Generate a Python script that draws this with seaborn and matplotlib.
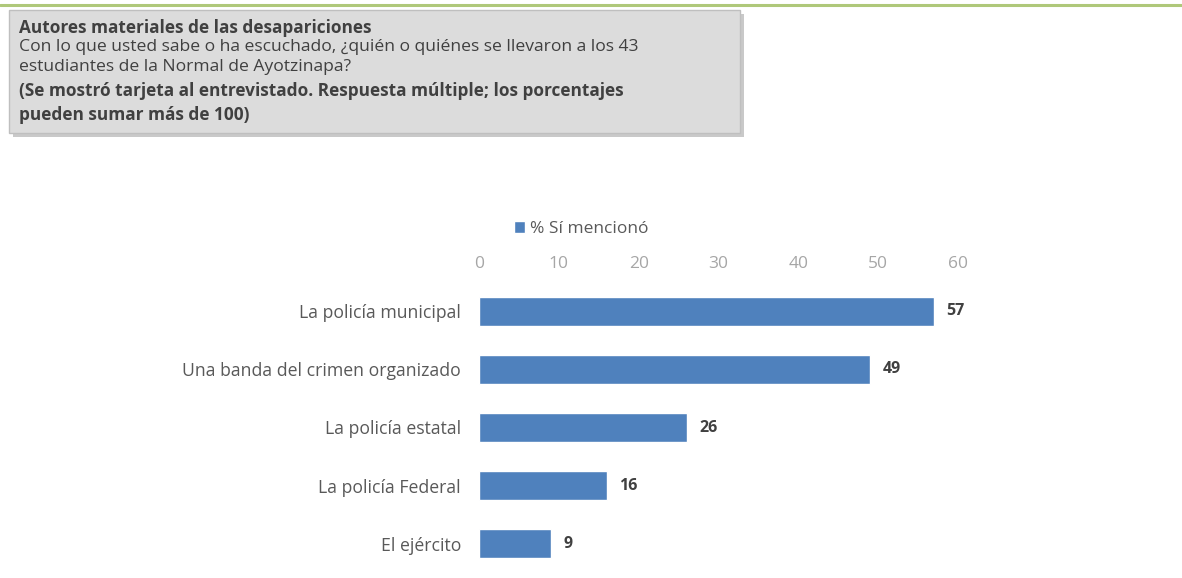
import matplotlib
matplotlib.use("Agg")
import matplotlib.pyplot as plt
import seaborn as sns
import pandas as pd
from matplotlib.patches import Rectangle
from matplotlib.lines import Line2D

categories = ["La policía municipal", "Una banda del crimen organizado",
              "La policía estatal", "La policía Federal", "El ejército"]
values = [57, 49, 26, 16, 9]
xticks = [0, 10, 20, 30, 40, 50, 60]
series_name = "% Sí mencionó"

title = "Autores materiales de las desapariciones"
question = ["Con lo que usted sabe o ha escuchado, ¿quién o quiénes se llevaron a los 43",
            "estudiantes de la Normal de Ayotzinapa?"]
note = ["(Se mostró tarjeta al entrevistado. Respuesta múltiple; los porcentajes",
        "pueden sumar más de 100)"]

sns.set_theme(style="white")
plt.rcParams['font.family'] = ['Open Sans', 'DejaVu Sans']

df = pd.DataFrame({"cat": categories, "val": values})

fig = plt.figure(figsize=(11.82, 5.78), dpi=100)
W, H = 1182, 578

# green top line
fig.add_artist(Line2D([0, 1], [1 - 4.5 / H, 1 - 4.5 / H], transform=fig.transFigure,
                      color="#9BBB59", lw=2.2, alpha=0.8))

# header box with shadow
bx0, by0, bx1, by1 = 9, 10, 740, 133
fig.add_artist(Rectangle(((bx0 + 4) / W, 1 - (by1 + 4) / H), (bx1 - bx0) / W, (by1 - by0) / H,
                         transform=fig.transFigure, facecolor="#a6a6a6", edgecolor="none", alpha=0.6))
fig.add_artist(Rectangle((bx0 / W, 1 - by1 / H), (bx1 - bx0) / W, (by1 - by0) / H,
                         transform=fig.transFigure, facecolor="#dcdcdc", edgecolor="#bfbfbf", lw=1))

tx = 19 / W
fs = 12.6
fig.text(tx, 1 - 28 / H, title, fontsize=12.4, fontweight="bold", color="#404040", va="center")
fig.text(tx, 1 - 47 / H, question[0], fontsize=fs, color="#404040", va="center")
fig.text(tx, 1 - 67 / H, question[1], fontsize=fs, color="#404040", va="center")
fig.text(tx, 1 - 91 / H, note[0], fontsize=12.4, fontweight="bold", color="#404040", va="center")
fig.text(tx, 1 - 115 / H, note[1], fontsize=12.4, fontweight="bold", color="#404040", va="center")

ax = fig.add_axes([479 / W, 1 - 573 / H, (958 - 479) / W, (573 - 282) / H])
sns.barplot(data=df, x="val", y="cat", color="#4F81BD", saturation=1, width=0.5,
            ax=ax, label=series_name)
ax.set_xlim(0, 60)
ax.set_ylim(4.5, -0.5)
ax.set_xticks(xticks)
ax.xaxis.tick_top()
ax.tick_params(axis="x", length=0, pad=7.5, labelsize=12.5, labelcolor="#A6A6A6")
ax.tick_params(axis="y", length=0, pad=13, labelsize=12.7, labelcolor="#595959")
ax.set_xlabel("")
ax.set_ylabel("")
for s in ax.spines.values():
    s.set_visible(False)
ax.grid(False)

for c in ax.containers:
    ax.bar_label(c, labels=[str(v) for v in values], padding=9, fontsize=11.5,
                 color="#404040", fontweight="bold")

leg = ax.legend(loc="lower left", bbox_to_anchor=(0.058, 1.13), frameon=False,
                handlelength=0.65, handleheight=0.65, handletextpad=0.3, fontsize=12.5,
                labelcolor="#595959", borderaxespad=0)

fig.savefig("out.png", dpi=100, facecolor="white")
